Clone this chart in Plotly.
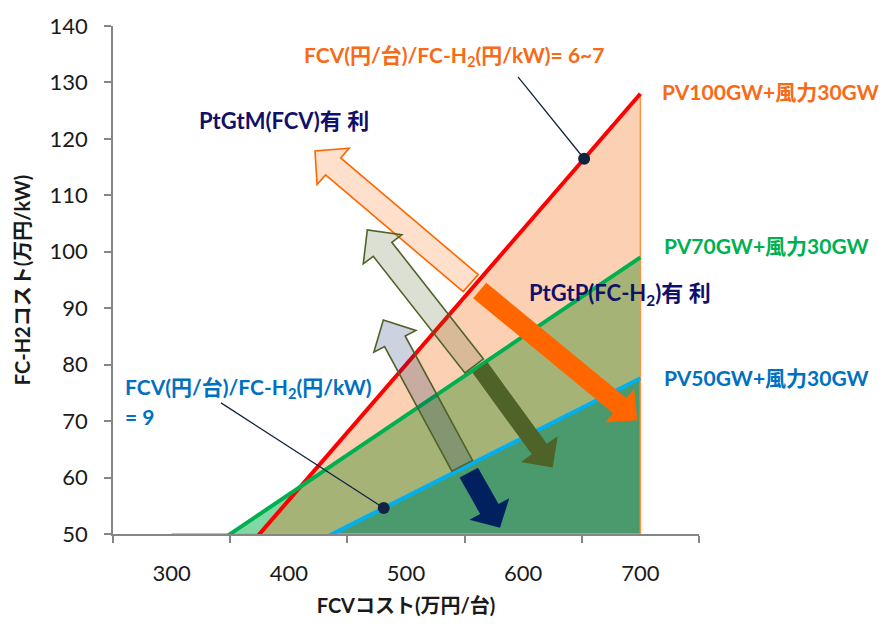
import numpy as np
import plotly.graph_objects as go

# FCV cost (万円/台) and break-even FC-H2 cost (万円/kW) for each renewable scenario
fcv_cost = [300, 400, 500, 600, 700]
h2_pv100 = [32, 56, 80, 104, 128]
h2_pv70 = [43, 57, 71, 85, 99]
h2_pv50 = [35.6, 46.1, 56.6, 67.1, 77.6]
scenario_names = ["PV100GW+風力30GW", "PV70GW+風力30GW", "PV50GW+風力30GW"]

# FCV cost at which the cost-ratio call-outs point onto the PV100 and PV50 lines
ratio_point_x = [652, 481]

x_ticks = [300, 400, 500, 600, 700]
x_cat_edges = [250, 350, 450, 550, 650, 750]
y_ticks = list(range(50, 141, 10))

X_RANGE = [250, 750]
Y_RANGE = [50, 140]

W, H = 888, 626
ML, MR, MT, MB = 113, 189, 19, 88
PW, PH = W - ML - MR, H - MT - MB

FONT = "Lato, 'Noto Sans CJK JP', sans-serif"


def px_to_paper(px, py):
    return (px - ML) / PW, (MT + PH - py) / PH


def px_to_data(px, py):
    x = X_RANGE[0] + (px - ML) / PW * (X_RANGE[1] - X_RANGE[0])
    y = Y_RANGE[1] - (py - MT) / PH * (Y_RANGE[1] - Y_RANGE[0])
    return x, y


def arrow_path(tail, tip, shaft_w, head_w, head_len):
    """Block arrow outline (screen pixels) converted to a paper-referenced SVG path."""
    t = np.array(tail, float)
    p = np.array(tip, float)
    u = (p - t) / np.linalg.norm(p - t)
    n = np.array([-u[1], u[0]])
    base = p - u * head_len
    pts = [
        t + n * shaft_w / 2,
        base + n * shaft_w / 2,
        base + n * head_w / 2,
        p,
        base - n * head_w / 2,
        base - n * shaft_w / 2,
        t - n * shaft_w / 2,
    ]
    coords = [px_to_paper(*q) for q in pts]
    return "M " + " L ".join(f"{a:.5f},{b:.5f}" for a, b in coords) + " Z"


fig = go.Figure()

# filled regions
xs = np.linspace(fcv_cost[0], fcv_cost[-1], 801)
red_dense = np.interp(xs, fcv_cost, h2_pv100)
green_dense = np.interp(xs, fcv_cost, h2_pv70)
both = np.minimum(red_dense, green_dense)

fig.add_trace(go.Scatter(x=fcv_cost, y=h2_pv100, mode="lines", fill="tozeroy",
                         fillcolor="#FBD0B3", line=dict(width=0), hoverinfo="skip"))
fig.add_trace(go.Scatter(x=fcv_cost, y=h2_pv70, mode="lines", fill="tozeroy",
                         fillcolor="#80D9A5", line=dict(width=0), hoverinfo="skip"))
fig.add_trace(go.Scatter(x=xs, y=both, mode="lines", fill="tozeroy",
                         fillcolor="#A5B476", line=dict(width=0), hoverinfo="skip"))
fig.add_trace(go.Scatter(x=fcv_cost, y=h2_pv50, mode="lines", fill="tozeroy",
                         fillcolor="#4A9A6D", line=dict(width=0), hoverinfo="skip"))

# thin border of the PV100 area
fig.add_trace(go.Scatter(x=[fcv_cost[0], fcv_cost[-1], fcv_cost[-1]],
                         y=[Y_RANGE[0], Y_RANGE[0], h2_pv100[-1]],
                         mode="lines", line=dict(color="#F79646", width=1.5),
                         hoverinfo="skip"))

# scenario lines
for ys, col, name in zip([h2_pv100, h2_pv70, h2_pv50],
                         ["#FF0000", "#00B050", "#00B0F0"], scenario_names):
    fig.add_trace(go.Scatter(x=fcv_cost, y=ys, mode="lines", name=name,
                             line=dict(color=col, width=4)))

# call-out markers on the PV100 and PV50 lines
ratio_point_y = [float(np.interp(ratio_point_x[0], fcv_cost, h2_pv100)),
                 float(np.interp(ratio_point_x[1], fcv_cost, h2_pv50))]
fig.add_trace(go.Scatter(x=ratio_point_x, y=ratio_point_y, mode="markers",
                         marker=dict(color="#13233F", size=12), hoverinfo="skip"))

shapes = []
# leader lines from the ratio labels to the markers
for (sx, sy), mx, my in zip([(518, 71), (221, 404)], ratio_point_x, ratio_point_y):
    dx, dy = px_to_data(sx, sy)
    shapes.append(dict(type="line", xref="x", yref="y", x0=dx, y0=dy, x1=mx, y1=my,
                       line=dict(color="#13233F", width=1.3), layer="above"))

# direction arrows
arrows = [
    # tail, tip, shaft, head width, head length, fill, outline
    ((479.7, 289.2), (637.3, 421.7), 20.5, 45, 23, "#FF6600", None),
    ((480.0, 368.0), (552.7, 470.0), 18.5, 45, 23, "#4F6228", None),
    ((468.8, 475.3), (500.0, 531.7), 21, 45.5, 22, "#002060", None),
    ((470.7, 281.7), (315.0, 146.7), 23, 49, 24, "rgba(255,102,0,0.2)", "#FF6600"),
    ((474.2, 366.3), (367.3, 227.3), 23.4, 48.6, 25, "rgba(79,98,40,0.2)", "#4F6228"),
    ((462.2, 468.3), (383.3, 319.3), 23.3, 47.6, 24.7, "rgba(0,32,96,0.2)", "#4F6228"),
]
for tail, tip, sw, hw, hl, fc, lc in arrows:
    shapes.append(dict(type="path", xref="paper", yref="paper",
                       path=arrow_path(tail, tip, sw, hw, hl),
                       fillcolor=fc,
                       line=dict(color=lc if lc else fc, width=1.6 if lc else 0),
                       layer="above"))

annotations = []


def label(text, px, py, color, size=21, anchor="left"):
    ax, ay = px_to_paper(px, py)
    annotations.append(dict(text=text, x=ax, y=ay, xref="paper", yref="paper",
                            xanchor=anchor, yanchor="middle", showarrow=False,
                            font=dict(family=FONT, size=size, color=color, weight="bold")))


orange_txt = "#F86A16"
navy_txt = "#10106A"
label("FCV(円/台)/FC-H<sub>2</sub>(円/kW)= 6~7", 302, 50, orange_txt, 21)
label(scenario_names[0], 660, 86, orange_txt, 21)
label(scenario_names[1], 662, 243, "#00B050", 21)
label(scenario_names[2], 662, 378, "#0070C0", 21)
label("PtGtM(FCV)有 利", 197, 116, navy_txt, 22)
label("PtGtP(FC-H<sub>2</sub>)有 利", 527, 293, navy_txt, 22)
label("FCV(円/台)/FC-H<sub>2</sub>(円/kW)", 123, 389, "#0070C0", 21)
label("= 9", 123, 418, "#0070C0", 21)

axis_col = "#868686"
fig.update_layout(
    width=W, height=H,
    margin=dict(l=ML, r=MR, t=MT, b=MB),
    plot_bgcolor="white", paper_bgcolor="white",
    showlegend=False,
    shapes=shapes, annotations=annotations,
    font=dict(family=FONT, color="#1A1A1A"),
    xaxis=dict(
        range=X_RANGE, tickmode="array", tickvals=x_ticks,
        ticktext=[str(v) for v in x_ticks], ticks="",
        showgrid=False, zeroline=False,
        showline=True, linecolor=axis_col, linewidth=1.5,
        tickfont=dict(size=22, family=FONT, color="#1A1A1A"),
        ticklabelstandoff=19,
        minor=dict(tickmode="array", tickvals=x_cat_edges, ticks="outside",
                   ticklen=7, tickwidth=1.5, tickcolor=axis_col, showgrid=False),
        title=dict(text="FCVコスト(万円/台)", standoff=14,
                   font=dict(size=20, family=FONT, color="#1A1A1A", weight="bold")),
    ),
    yaxis=dict(
        range=Y_RANGE, tickmode="array", tickvals=y_ticks, ticks="outside",
        ticklen=7, tickwidth=1.5, tickcolor=axis_col,
        showgrid=False, zeroline=False,
        showline=True, linecolor=axis_col, linewidth=1.5,
        tickfont=dict(size=22, family=FONT, color="#1A1A1A"),
        ticklabelstandoff=12,
        title=dict(text="FC-H2コスト(万円/kW)", standoff=14,
                   font=dict(size=20, family=FONT, color="#1A1A1A", weight="bold")),
    ),
)

fig.write_html("out.html")
